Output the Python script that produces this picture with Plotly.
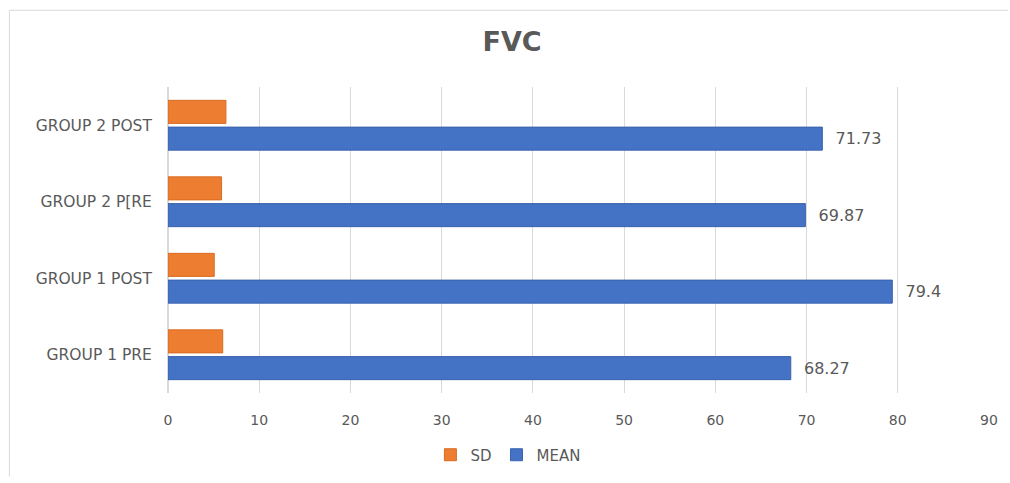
import plotly.graph_objects as go

categories = ["GROUP 1 PRE", "GROUP 1 POST", "GROUP 2 P[RE", "GROUP 2 POST"]
mean_values = [68.27, 79.4, 69.87, 71.73]
sd_values = [6.0, 5.07, 5.87, 6.35]
x_ticks = [0, 10, 20, 30, 40, 50, 60, 70, 80, 90]

BLUE = "#4472C4"
ORANGE = "#ED7D31"
GRAY_TEXT = "#595959"
FONT = "'DejaVu Sans', sans-serif"

fig = go.Figure()
fig.add_trace(go.Bar(
    y=categories, x=mean_values, name="MEAN", orientation="h",
    marker=dict(color=BLUE, line=dict(color="#3A62AE", width=1)),
    texttemplate="\u00a0\u00a0%{x}", textposition="outside",
    textfont=dict(size=16, color=GRAY_TEXT, family=FONT),
    cliponaxis=False,
))
fig.add_trace(go.Bar(
    y=categories, x=sd_values, name="SD", orientation="h",
    marker=dict(color=ORANGE, line=dict(color="#D96C22", width=1)),
))

W, H = 1010, 483
L, R, T, B = 168, 19, 87, 85
pw = W - L - R
ph = H - T - B

def px_x(px):
    return (px - L) / pw

def px_y(py):
    return (H - B - py) / ph

fig.update_layout(
    width=W, height=H,
    margin=dict(l=L, r=R, t=T, b=B),
    paper_bgcolor="white", plot_bgcolor="white",
    barmode="group", bargap=0.3, bargroupgap=0.14,
    title=dict(text="<b>FVC</b>", x=0.507, xanchor="center", y=1 - 42 / H, yanchor="middle",
               font=dict(size=27, color=GRAY_TEXT, family=FONT)),
    font=dict(family=FONT, color=GRAY_TEXT, size=14),
    showlegend=True,
    legend=dict(orientation="h", traceorder="reversed", x=0.414, xanchor="center",
                y=px_y(461), yanchor="middle",
                font=dict(size=15, color=GRAY_TEXT, family=FONT),
                itemwidth=30),
    xaxis=dict(range=[0, 90], tickvals=x_ticks, showgrid=True, gridcolor="#D9D9D9",
               gridwidth=1, zeroline=True, zerolinecolor="#D9D9D9", showline=False,
               ticks="outside", ticklen=14, tickcolor="rgba(0,0,0,0)",
               tickfont=dict(size=14, color=GRAY_TEXT, family=FONT)),
    yaxis=dict(showgrid=False, zeroline=False, showline=False,
               ticks="outside", ticklen=12, tickcolor="rgba(0,0,0,0)",
               tickfont=dict(size=15.5, color=GRAY_TEXT, family=FONT)),
    shapes=[
        dict(type="line", xref="paper", yref="paper", x0=px_x(9), x1=px_x(1010),
             y0=px_y(9), y1=px_y(9), line=dict(color="#D9D9D9", width=1)),
        dict(type="line", xref="paper", yref="paper", x0=px_x(9), x1=px_x(9),
             y0=px_y(9), y1=px_y(483), line=dict(color="#D9D9D9", width=1)),
    ],
)

fig.write_html("out.html")
